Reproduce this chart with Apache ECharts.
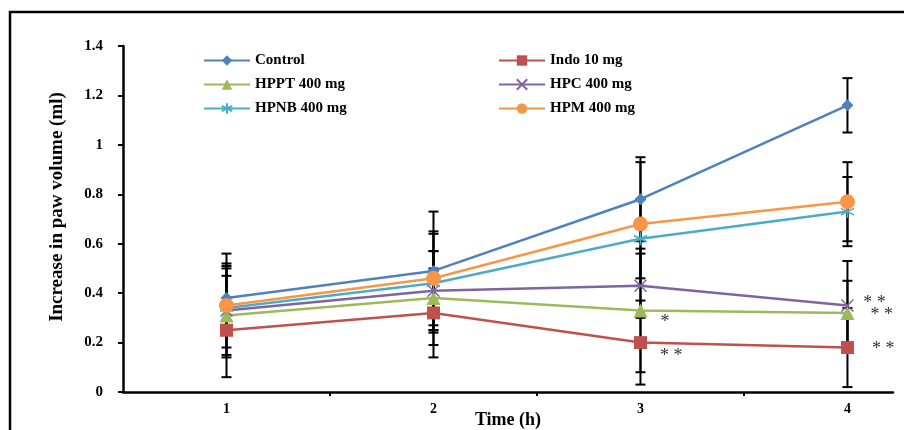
<!DOCTYPE html>
<html lang="en">
<head>
  <meta charset="UTF-8">
  <title>Paw volume</title>
  <script src="https://cdn.jsdelivr.net/npm/echarts@6/dist/echarts.min.js"></script>
</head>
<body style="margin:0">
<div id="chart" style="width:904px;height:430px;background:#fff"></div>
<script>
  // hours
  const hours = [1, 2, 3, 4];
  const names = ['Control', 'Indo 10 mg', 'HPPT 400 mg', 'HPC 400 mg', 'HPNB 400 mg', 'HPM 400 mg'];

  // means (ml)
  const control = [0.38, 0.49, 0.78, 1.16];
  const indo    = [0.25, 0.32, 0.20, 0.18];
  const hppt    = [0.31, 0.38, 0.33, 0.32];
  const hpc     = [0.33, 0.41, 0.43, 0.35];
  const hpnb    = [0.34, 0.44, 0.62, 0.73];
  const hpm     = [0.35, 0.46, 0.68, 0.77];

  // error bar half-widths
  const controlErr = [0.14, 0.24, 0.17, 0.11];
  const indoErr    = [0.11, 0.18, 0.17, 0.16];
  const hpptErr    = [0.25, 0.19, 0.25, 0.13];
  const hpcErr     = [0.18, 0.16, 0.13, 0.18];
  const hpnbErr    = [0.16, 0.20, 0.16, 0.14];
  const hpmErr     = [0.12, 0.19, 0.25, 0.16];

  // significance marks: [series index, hour index, text]
  const stars = [[2, 2, '*'], [1, 2, '* *'], [3, 3, '* *'], [2, 3, '* *'], [1, 3, '* *']];
  const starOffsets = [[8, 12], [8, 14], [4, -2], [11, 2], [13, 2]];

  const means = [control, indo, hppt, hpc, hpnb, hpm];
  const errs = [controlErr, indoErr, hpptErr, hpcErr, hpnbErr, hpmErr];
  const colors = ['#4F81BD', '#C0504D', '#9BBB59', '#8064A2', '#4BACC6', '#F79646'];
  const symbols = [
    'diamond', 'rect', 'triangle',
    'path://M0,0L10,10M10,0L0,10',
    'path://M5,0L5,10M0.7,2.5L9.3,7.5M9.3,2.5L0.7,7.5',
    'circle'
  ];
  const sizes = [12, 13, 14, 12, 13, 15];

  const font = 'Liberation Serif';

  const errData = [];
  means.forEach((m, s) => m.forEach((v, i) => errData.push([hours[i], v, errs[s][i]])));

  const lineSeries = names.map((name, s) => ({
    name: name,
    type: 'line',
    z: 5,
    symbol: symbols[s],
    symbolSize: sizes[s],
    showAllSymbol: true,
    lineStyle: { color: colors[s], width: 2.5 },
    itemStyle: { color: colors[s], borderColor: colors[s], borderWidth: s === 3 || s === 4 ? 1.5 : 0 },
    emphasis: { disabled: true },
    data: hours.map((h, i) => {
      const item = { value: [h, means[s][i]] };
      stars.forEach((st, k) => {
        if (st[0] === s && st[1] === i) {
          item.label = {
            show: true, formatter: st[2], position: 'right',
            offset: starOffsets[k], color: '#333', fontSize: 18, fontFamily: font
          };
        }
      });
      return item;
    })
  }));

  const chart = echarts.init(document.getElementById('chart'));
  chart.setOption({
    animation: false,
    graphic: [{
      type: 'polyline',
      shape: { points: [[10, 430], [10, 12], [904, 12]] },
      style: { stroke: '#000', lineWidth: 2.5, fill: null }
    }],
    legend: [{
      data: ['Control', 'HPPT 400 mg', 'HPNB 400 mg'],
      orient: 'vertical', left: 198, top: 48,
      itemWidth: 46, itemHeight: 13, itemGap: 9,
      textStyle: { fontFamily: font, fontWeight: 'bold', fontSize: 15, color: '#000' }
    }, {
      data: ['Indo 10 mg', 'HPC 400 mg', 'HPM 400 mg'],
      orient: 'vertical', left: 493, top: 48,
      itemWidth: 46, itemHeight: 13, itemGap: 9,
      textStyle: { fontFamily: font, fontWeight: 'bold', fontSize: 15, color: '#000' }
    }],
    grid: { left: 123, right: 11, top: 46, bottom: 38, containLabel: false, outerBoundsMode: 'none' },
    xAxis: {
      type: 'value', min: 0.5, max: 4.22,
      name: 'Time (h)', nameLocation: 'middle', nameGap: 19, nameMoveOverlap: false,
      nameTextStyle: { fontFamily: font, fontWeight: 'bold', fontSize: 18, color: '#000' },
      axisLine: { show: true, lineStyle: { color: '#000', width: 2.5 } },
      axisTick: { show: true, length: 4, customValues: [1.5, 2.5, 3.5], lineStyle: { color: '#000', width: 2 } },
      axisLabel: { customValues: hours, margin: 10, fontFamily: font, fontWeight: 'bold', fontSize: 14, color: '#000' },
      splitLine: { show: false }
    },
    yAxis: {
      type: 'value', min: 0, max: 1.4, interval: 0.2,
      name: 'Increase in paw volume (ml)', nameLocation: 'middle', nameGap: 56, nameMoveOverlap: false,
      nameTextStyle: { fontFamily: font, fontWeight: 'bold', fontSize: 19, color: '#000', padding: [0, 0, 0, 24] },
      axisLine: { show: true, lineStyle: { color: '#000', width: 2.5 } },
      axisTick: { show: true, length: 5, lineStyle: { color: '#000', width: 2 } },
      axisLabel: {
        margin: 20, fontFamily: font, fontWeight: 'bold', fontSize: 15, color: '#000',
        formatter: v => String(Math.round(v * 10) / 10)
      },
      splitLine: { show: false }
    },
    series: [{
      type: 'custom',
      z: 2,
      silent: true,
      data: errData,
      renderItem: function (params, api) {
        const x = api.value(0), m = api.value(1), e = api.value(2);
        const hi = api.coord([x, m + e]);
        const lo = api.coord([x, m - e]);
        const w = 5;
        const style = { stroke: '#000', lineWidth: 2 };
        return {
          type: 'group',
          children: [
            { type: 'line', shape: { x1: hi[0], y1: hi[1], x2: lo[0], y2: lo[1] }, style: style },
            { type: 'line', shape: { x1: hi[0] - w, y1: hi[1], x2: hi[0] + w, y2: hi[1] }, style: style },
            { type: 'line', shape: { x1: lo[0] - w, y1: lo[1], x2: lo[0] + w, y2: lo[1] }, style: style }
          ]
        };
      }
    }].concat(lineSeries)
  });
</script>
</body>
</html>
